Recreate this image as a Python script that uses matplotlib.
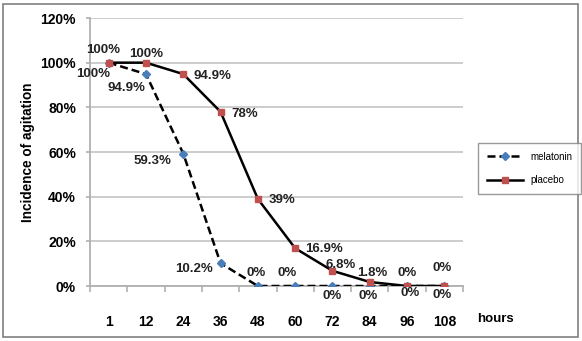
import matplotlib
matplotlib.use("Agg")
import matplotlib.pyplot as plt
from matplotlib.patches import Rectangle

hours = ["1", "12", "24", "36", "48", "60", "72", "84", "96", "108"]
melatonin = [100, 94.9, 59.3, 10.2, 0, 0, 0, 0, 0, 0]
placebo = [100, 100, 94.9, 78, 39, 16.9, 6.8, 1.8, 0, 0]
mel_labels = ["100%", "94.9%", "59.3%", "10.2%", "0%", "0%", "0%", "0%", "0%", "0%"]
pla_labels = ["100%", "100%", "94.9%", "78%", "39%", "16.9%", "6.8%", "1.8%", "0%", "0%"]

plt.rcParams['font.family'] = ['Liberation Sans', 'DejaVu Sans']

fig = plt.figure(figsize=(5.82, 3.41), dpi=100)
ax = fig.add_axes([90/582, 1-286/341, 373/582, 268/341])
x = list(range(len(hours)))

ax.plot(x, melatonin, color='black', lw=1.8, ls=(0, (3.2, 1.6)), marker='D', ms=4,
        mfc='#4a7ebb', mec='#4a7ebb', label='melatonin', zorder=3)
ax.plot(x, placebo, color='black', lw=1.8, marker='s', ms=5,
        mfc='#c0504d', mec='#c0504d', label='placebo', zorder=4)

# label offsets in pixels (dx, dy)
pla_off = [(-6, 13), (0, 9), (29, -2), (24, -2), (24, -1), (29, -1), (8, 6), (3, 9), (0, 13), (-2, 18)]
mel_off = [(-16, -11), (-20, -14), (-31, -7), (-27, -6), (-2, 13), (-8, 13), (0, -10), (-2, -10), (3, -7), (-2, -9)]
for i in x:
    ax.annotate(pla_labels[i], (i, placebo[i]), xytext=pla_off[i], textcoords='offset pixels',
                ha='center', va='center', fontsize=9.5, fontweight='bold', color='#222222', zorder=5)
    ax.annotate(mel_labels[i], (i, melatonin[i]), xytext=mel_off[i], textcoords='offset pixels',
                ha='center', va='center', fontsize=9.5, fontweight='bold', color='#222222', zorder=5)

ax.set_xlim(-0.5, len(hours) - 0.5)
ax.set_ylim(0, 120)
ax.set_yticks(range(0, 121, 20))
ax.set_yticklabels([f"{v}%" for v in range(0, 121, 20)], fontsize=10, fontweight='bold')
ax.set_xticks(x)
ax.set_xticklabels(hours, fontsize=10, fontweight='bold')
ax.set_xticks([i - 0.5 for i in range(len(hours) + 1)], minor=True)
ax.tick_params(axis='x', which='major', length=0, pad=21)
ax.tick_params(axis='x', which='minor', length=4, color='#b0b0b0', width=1.2)
ax.tick_params(axis='y', length=3, color='#b0b0b0', width=1.2, pad=7)
ax.grid(axis='y', color='#c8c8c8', lw=1.3)
ax.set_axisbelow(True)
for s in ['top', 'right']:
    ax.spines[s].set_visible(False)
ax.spines['left'].set_color('#b0b0b0')
ax.spines['bottom'].set_color('#b0b0b0')
ax.spines['left'].set_linewidth(1.3)
ax.spines['bottom'].set_linewidth(1.3)

ax.set_ylabel("Incidence of agitation", fontsize=9.8, fontweight='bold', labelpad=4)
fig.text(495/582, 1-319/341, "hours", fontsize=9.5, fontweight='bold', ha='center', va='center')

leg = fig.legend(loc='upper left', bbox_to_anchor=(478/582, 1-143/341), fontsize=7,
                 frameon=True, fancybox=False, edgecolor='#808080', handlelength=3.7,
                 handletextpad=0.8, labelspacing=1.4, borderpad=0.9, borderaxespad=0)
leg.get_frame().set_linewidth(1.0)

fig.patches.append(Rectangle((3/582, 4/341), 575/582, 333/341, transform=fig.transFigure,
                             fill=False, edgecolor='#808080', lw=1.2))

fig.savefig("out.png", dpi=100)
